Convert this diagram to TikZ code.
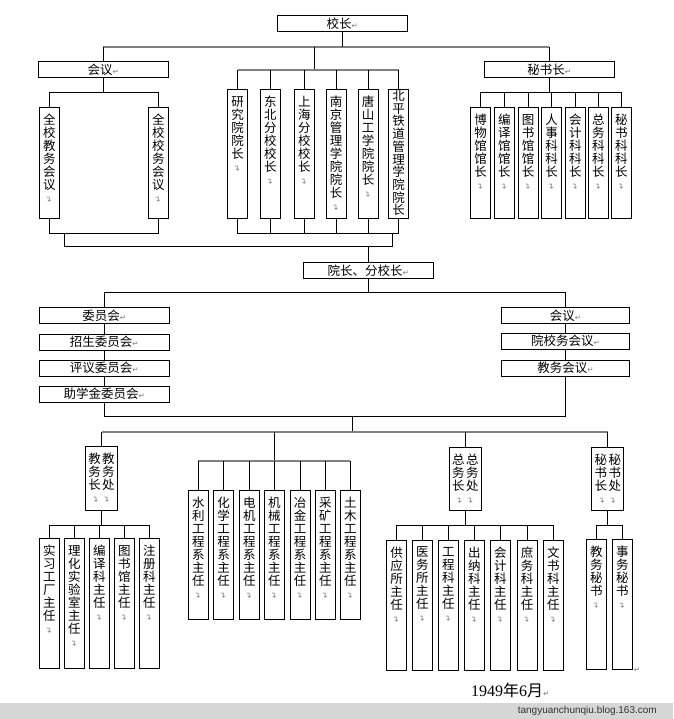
\documentclass[tikz,border=0pt]{standalone}
\usepackage{fontspec}
\usepackage{graphicx}
\setmainfont{Noto Sans CJK SC}
\newfontfamily\symf{DejaVu Sans}
\newfontfamily\wmf{Liberation Sans}
\newfontfamily\datef{Liberation Serif}
\definecolor{busgray}{RGB}{128,128,128}
\definecolor{mkgray}{RGB}{125,125,125}
\definecolor{bandgray}{RGB}{214,214,214}
% Word paragraph marks
\newcommand{\hmk}{{\color{mkgray}\symf\fontsize{7.5}{7.5}\selectfont ↵}}
\newcommand{\pmk}{{\color{mkgray}\symf\fontsize{8}{8}\selectfont\rotatebox{90}{↵}}}
% vertical text, one character per line
\makeatletter
\def\vl@go#1{\@tfor\tmpch:=#1\do{\tmpch\\}}
\newcommand{\vlab}[3][6.5pt]{\parbox[c][#2][t]{20pt}{\centering\vspace*{#1}\expandafter\vl@go\expandafter{#3}\pmk}}
\makeatother
% two columns: X X / Y Y / 长 处
\newcommand{\dlab}[2]{\parbox[c][63.5pt][t]{32pt}{\centering\vspace*{6.5pt}#1\kern1.5pt#1\\#2\kern1.5pt#2\\长\kern1.5pt处\\\pmk\kern6pt\pmk}}
\tikzset{
  hbox/.style={draw, line width=0.9pt, minimum width=130pt, minimum height=16pt, inner sep=0pt, font=\fontsize{12.5}{12.5}\selectfont},
  col/.style={draw, line width=0.9pt, inner sep=0pt, anchor=north, font=\fontsize{12.5}{13}\selectfont},
  dcol/.style={draw, line width=0.9pt, inner sep=0pt, anchor=north, font=\fontsize{12.5}{13}\selectfont},
  link/.style={line width=0.9pt},
  bus/.style={busgray, line width=2pt}
}
\begin{document}
\begin{tikzpicture}[x=1pt,y=-1pt]
\fill[white] (0,0) rectangle (673,719);
\useasboundingbox (0,0) rectangle (673,719);
\fill[bandgray] (0,703) rectangle (673,719);

% top level
\node[hbox] (xz) at (342.3,23.8) {校长\hmk};
\node[hbox] (hy) at (103.3,69.5) {会议\hmk};
\node[hbox] (msz) at (549.3,69.5) {秘书长\hmk};
\coordinate (b0) at (342.3,47);
\draw[bus] (hy.north |- b0) -- (msz.north |- b0);
\draw[link] (xz.south) -- (b0);
\draw[link] (hy.north |- b0) -- (hy.north);
\draw[link] (msz.north |- b0) -- (msz.north);

% meetings
\node[col] (q1) at (49.3,107.3) {\vlab{111pt}{全校教务会议}};
\node[col] (q2) at (158.3,107.3) {\vlab{111pt}{全校校务会议}};
\coordinate (b2) at (0,92.3);
\draw[link] (hy.south) -- (hy.south |- b2);
\draw[link] (q1.north) |- (q2.north |- b2) -- (q2.north);

% colleges and branches
\foreach \x/\lab [count=\i] in {237.5/研究院院长,270.3/东北分校校长,304.3/上海分校校长,336/南京管理学院院长,368.2/唐山工学院院长}
  \node[col] (r\i) at (\x,89.3) {\vlab{128.5pt}{\lab}};
\node[col] (r6) at (398.5,89.3) {\let\pmk\relax\fontsize{12.5}{12.7}\selectfont\vlab[0.5pt]{128.5pt}{北平铁道管理学院院长}};
\coordinate (b1) at (314.3,70);
\draw[link] (b1 |- b0) -- (b1);
\draw[bus] (r1.north |- b1) -- (r6.north |- b1);
\foreach \i in {1,...,6} \draw[link] (r\i.north |- b1) -- (r\i.north);

% secretary general
\foreach \x/\lab [count=\i] in {480.5/博物馆馆长,504.3/编译馆馆长,528.2/图书馆馆长,551.5/人事科科长,575.3/会计科科长,598.3/总务科科长,621.3/秘书科科长}
  \node[col] (s\i) at (\x,107.3) {\vlab{111pt}{\lab}};
\draw[link] (msz.south) -- (msz.south |- b2);
\draw[link] (s1.north |- b2) -- (s7.north |- b2);
\foreach \i in {1,...,7} \draw[link] (s\i.north |- b2) -- (s\i.north);

% down to the deans
\coordinate (b3) at (0,233);
\coordinate (b4) at (0,246.7);
\draw[link] (q1.south) |- (q2.south |- b3) -- (q2.south);
\draw[link] (r1.south) |- (r6.south |- b3) -- (r6.south);
\foreach \i in {2,...,5} \draw[link] (r\i.south) -- (r\i.south |- b3);
\node[hbox] (yz) at (368.3,270.3) {院长、分校长\hmk};
\coordinate (j1) at (64.3,233);
\coordinate (j2) at (392.7,233);
\draw[link] (j1) |- (j2 |- b4) -- (j2);
\draw[link] (yz.north |- b4) -- (yz.north);

% committees and meetings
\foreach \y/\lab [count=\i] in {315.3/委员会,342.2/招生委员会,368/评议委员会,394/助学金委员会}
  \node[hbox] (c\i) at (104.2,\y) {\lab\hmk};
\foreach \y/\lab [count=\i] in {315.3/会议,341/院校务会议,368/教务会议}
  \node[hbox, minimum width=128pt] (m\i) at (565.4,\y) {\lab\hmk};
\coordinate (b5) at (0,292);
\draw[link] (yz.south) -- (yz.south |- b5);
\draw[link] (c1.north) |- (m1.north |- b5) -- (m1.north);
\draw[link] (c1) -- (c2) (c2) -- (c3) (c3) -- (c4);
\draw[link] (m1) -- (m2) (m2) -- (m3);
\coordinate (b6) at (0,416.7);
\draw[link] (c4.south) |- (m3.south |- b6) -- (m3.south);

% offices
\coordinate (t1) at (352.3,416.7);
\coordinate (b7) at (0,432);
\draw[link] (t1) -- (t1 |- b7);
\node[dcol] (jwc) at (101.5,446) {\dlab{教}{务}};
\node[dcol] (zwc) at (465.3,446.7) {\dlab{总}{务}};
\node[dcol] (msc) at (607.8,446.7) {\dlab{秘}{书}};
\draw[bus] (jwc.north |- b7) -- (msc.north |- b7);
\foreach \n in {jwc,zwc,msc} \draw[link] (\n.north |- b7) -- (\n.north);

% departments
\foreach \x/\lab [count=\i] in {198.3/水利工程系主任,223.7/化学工程系主任,249.3/电机工程系主任,274.3/机械工程系主任,300/冶金工程系主任,325.3/采矿工程系主任,350.3/土木工程系主任}
  \node[col] (e\i) at (\x,490) {\vlab{129.3pt}{\lab}};
\coordinate (b8) at (0,461);
\draw[link] (e4.north |- b7) -- (e4.north |- b8);
\draw[bus] (e1.north |- b8) -- (e7.north |- b8);
\foreach \i in {1,...,7} \draw[link] (e\i.north |- b8) -- (e\i.north);

% sections
\coordinate (b9) at (0,525);
\foreach \x/\lab [count=\i] in {49.3/实习工厂主任,74.3/理化实验室主任,99.3/编译科主任,124.3/图书馆主任,149.3/注册科主任}
  \node[col] (f\i) at (\x,538.3) {\vlab{129.7pt}{\lab}};
\draw[link] (jwc.south) -- (jwc.south |- b9);
\draw[link] (f1.north |- b9) -- (f5.north |- b9);
\foreach \i in {1,...,5} \draw[link] (f\i.north |- b9) -- (f\i.north);

\foreach \x/\lab [count=\i] in {396.5/供应所主任,422.3/医务所主任,448.3/工程科主任,474.3/出纳科主任,500.3/会计科主任,527/庶务科主任,553.3/文书科主任}
  \node[col] (g\i) at (\x,540) {\vlab{130pt}{\lab}};
\draw[link] (zwc.south) -- (zwc.south |- b9);
\draw[link] (g1.north |- b9) -- (g7.north |- b9);
\foreach \i in {1,...,7} \draw[link] (g\i.north |- b9) -- (g\i.north);

\foreach \x/\lab [count=\i] in {596.3/教务秘书,622.3/事务秘书}
  \node[col] (h\i) at (\x,539) {\vlab{130.3pt}{\lab}};
\draw[link] (msc.south) -- (msc.south |- b9);
\draw[link] (h1.north |- b9) -- (h2.north |- b9);
\foreach \i in {1,2} \draw[link] (h\i.north |- b9) -- (h\i.north);
\node[anchor=west, inner sep=1pt] (pm) at (h2.south east) {\hmk};

% date and watermark
\node[anchor=west, inner sep=0pt, font=\fontsize{16}{16}\selectfont] (dt) at (471,690) {{\datef 1949}年{\datef 6}月\hmk};
\node[anchor=east, inner sep=0pt, font=\wmf\fontsize{10}{10}\selectfont, text=black!80] (wm) at (657,710.5) {tangyuanchunqiu.blog.163.com};
\end{tikzpicture}
\end{document}
